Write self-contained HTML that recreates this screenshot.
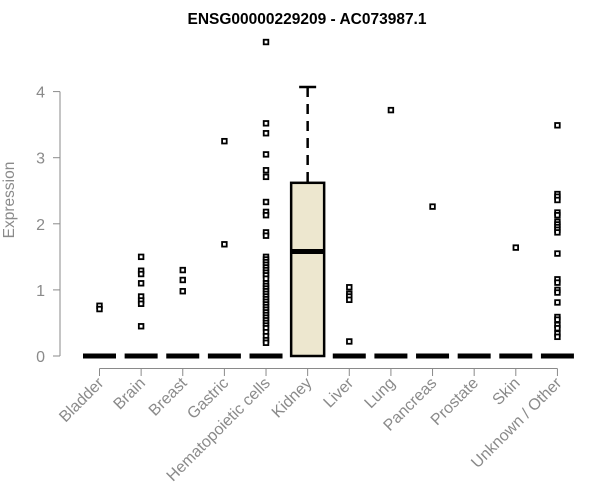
<!DOCTYPE html>
<html><head><meta charset="utf-8"><style>
body{margin:0;background:#fff}
svg{display:block;font-family:"Liberation Sans",Arial,sans-serif}
</style></head><body>
<svg id="chart" width="600" height="500" viewBox="0 0 600 500">
<text x="307" y="24" text-anchor="middle" font-size="15.5" font-weight="bold" fill="#000">ENSG00000229209 - AC073987.1</text>
<text transform="translate(14,200) rotate(-90)" text-anchor="middle" font-size="15.5" fill="#8a8a8a">Expression</text>
<g id="yaxis"></g>
<g id="xaxis"></g>
<g id="plot"></g>
</svg>
<script>
const categories = ["Bladder","Brain","Breast","Gastric","Hematopoietic cells","Kidney","Liver","Lung","Pancreas","Prostate","Skin","Unknown / Other"];
const q1 = [0,0,0,0,0,0,0,0,0,0,0,0];
const medians = [0,0,0,0,0,1.58,0,0,0,0,0,0];
const q3 = [0,0,0,0,0,2.62,0,0,0,0,0,0];
const whiskerLow = [0,0,0,0,0,0,0,0,0,0,0,0];
const whiskerHigh = [0,0,0,0,0,4.07,0,0,0,0,0,0];
const outliers = [
 [0.76,0.71],
 [1.50,1.29,1.24,1.10,0.90,0.84,0.79,0.45],
 [1.30,1.15,0.98],
 [3.25,1.69],
 [4.75,3.52,3.37,3.05,2.81,2.71,2.33,2.18,2.13,1.87,1.82,1.50,1.46,1.42,1.38,1.34,1.30,1.26,1.22,1.17,1.10,1.06,1.02,0.98,0.94,0.90,0.86,0.82,0.78,0.74,0.70,0.66,0.62,0.58,0.54,0.50,0.46,0.42,0.36,0.30,0.24,0.20],
 [],
 [1.04,0.94,0.90,0.85,0.22],
 [3.72],
 [2.26],
 [],
 [1.64],
 [3.49,2.45,2.41,2.36,2.17,2.13,2.03,1.99,1.95,1.91,1.87,1.55,1.16,1.11,1.00,0.96,0.81,0.59,0.55,0.47,0.42,0.34,0.29]
];
const yTicks = [0,1,2,3,4];

const NS="http://www.w3.org/2000/svg";
const y0px=356, unitPx=66.1;
function yScale(v){return y0px - v*unitPx;}
function xScale(i){return 99.5 + i*41.63;}
function mk(tag,attrs,parent){const e=document.createElementNS(NS,tag);for(const k in attrs)e.setAttribute(k,attrs[k]);parent.appendChild(e);return e;}
const yax=document.getElementById('yaxis'), xax=document.getElementById('xaxis'), plot=document.getElementById('plot');
const axCol="#8a8a8a";
mk('line',{x1:60,x2:60,y1:yScale(yTicks[yTicks.length-1]),y2:yScale(yTicks[0]),stroke:axCol,'stroke-width':1},yax);
yTicks.forEach(t=>{
 const l=mk('line',{x1:53,x2:60,y1:yScale(t),y2:yScale(t),stroke:axCol},yax);
 
 
 const tx=mk('text',{x:45,y:yScale(t)+6,'text-anchor':'end','font-size':16,fill:axCol},yax);
 tx.textContent=t;
 
 
});
mk('line',{x1:xScale(0),x2:xScale(categories.length-1),y1:368.5,y2:368.5,stroke:axCol},xax);
categories.forEach((c,i)=>{
 const x=xScale(i);
 const l=mk('line',{x1:x,x2:x,y1:368.5,y2:376,stroke:axCol},xax);
 
 
 const tx=mk('text',{transform:`translate(${x+5},${384}) rotate(-45)`,'text-anchor':'end','font-size':16,fill:axCol},xax);
 tx.textContent=c;
 
 
});
const hw=16.5;
categories.forEach((c,i)=>{
 const x=xScale(i);
 const g=mk('g',{},plot);
 
 
 const top=yScale(q3[i]), bot=yScale(q1[i]);
 if(top<bot-1){
  mk('line',{x1:x,x2:x,y1:yScale(whiskerHigh[i]),y2:top,stroke:'#000','stroke-width':2.5,'stroke-dasharray':'10,7'},g);
  mk('line',{x1:x-8.5,x2:x+8.5,y1:yScale(whiskerHigh[i]),y2:yScale(whiskerHigh[i]),stroke:'#000','stroke-width':2.5},g);
  mk('rect',{x:x-hw,y:top,width:2*hw,height:bot-top,fill:'#ede7cf',stroke:'#000','stroke-width':2.5},g);
 }
 mk('line',{x1:x-hw,x2:x+hw,y1:yScale(medians[i]),y2:yScale(medians[i]),stroke:'#000','stroke-width':5},g);
 outliers[i].forEach(v=>{
  const r=mk('rect',{x:x-2.3,y:yScale(v)-2.3,width:4.6,height:4.6,fill:'#fff',stroke:'#000','stroke-width':1.8},g);
  
  
 });
});
</script>
</body></html>
